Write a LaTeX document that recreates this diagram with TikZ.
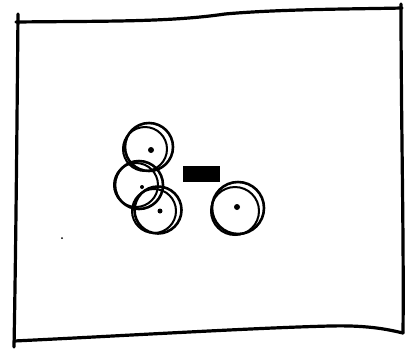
\documentclass[tikz,border=0pt]{standalone}
\usetikzlibrary{positioning,calc}

\begin{document}
\begin{tikzpicture}[
  x=1pt, y=-1pt,
  ink/.style={draw=black, line width=3.2pt, line cap=round, line join=round},
  cell/.style={ink, line width=2.6pt, circle, minimum size=48pt, inner sep=0pt},
  cellrim/.style={ink, line width=2pt},
  nucleus/.style={fill=black, circle, inner sep=0pt, minimum size=6pt},
  bar/.style={fill=black, draw=black, inner sep=0pt, minimum width=36pt, minimum height=15pt}]

\useasboundingbox (0,0) rectangle (409,349);

% hand drawn frame
\coordinate (tl) at (16,22);
\coordinate (tr) at (402,8);
\coordinate (bl) at (14,341);
\coordinate (br) at (403,333);
\draw[ink] (tl) .. controls (110,21) and (170,22) .. (225,14) .. controls (280,9) and (360,9) .. (tr);
\draw[ink] ($(tl)+(2,-8)$) .. controls (17,120) and (16,240) .. ($(bl)+(0,6)$);
\draw[ink] ($(tr)+(-1,-4)$) .. controls (401,120) and (404,240) .. (br);
\draw[ink] (bl) .. controls (120,336) and (250,328) .. (330,326) .. controls (370,325) and (390,330) .. (br);

% cells
\node[cell] (top) at (149,147) {};
\node[cell] (mid) at (139,185) {};
\node[cell, minimum size=47pt] (low) at (158,210) {};
\node[cell, minimum size=52pt] (right) at (238,208) {};
\draw[cellrim] ($(top)+(-4,2)$) circle (22);
\draw[cellrim] ($(mid)+(-3,0)$) circle (22);
\draw[cellrim] ($(low)+(-4,1)$) circle (22);
\draw[cellrim] ($(right)+(-3,3)$) circle (24);

\node[nucleus] (ntop) at (151,150) {};
\node[nucleus, minimum size=4pt] (nmid) at (142,187) {};
\node[nucleus, minimum size=5pt] (nlow) at (160,211) {};
\node[nucleus] (nright) at (237,207) {};

\node[bar] (gap) at (201,174) {};
\node[nucleus, minimum size=2pt] (speck) at (62,238) {};
\end{tikzpicture}
\end{document}
